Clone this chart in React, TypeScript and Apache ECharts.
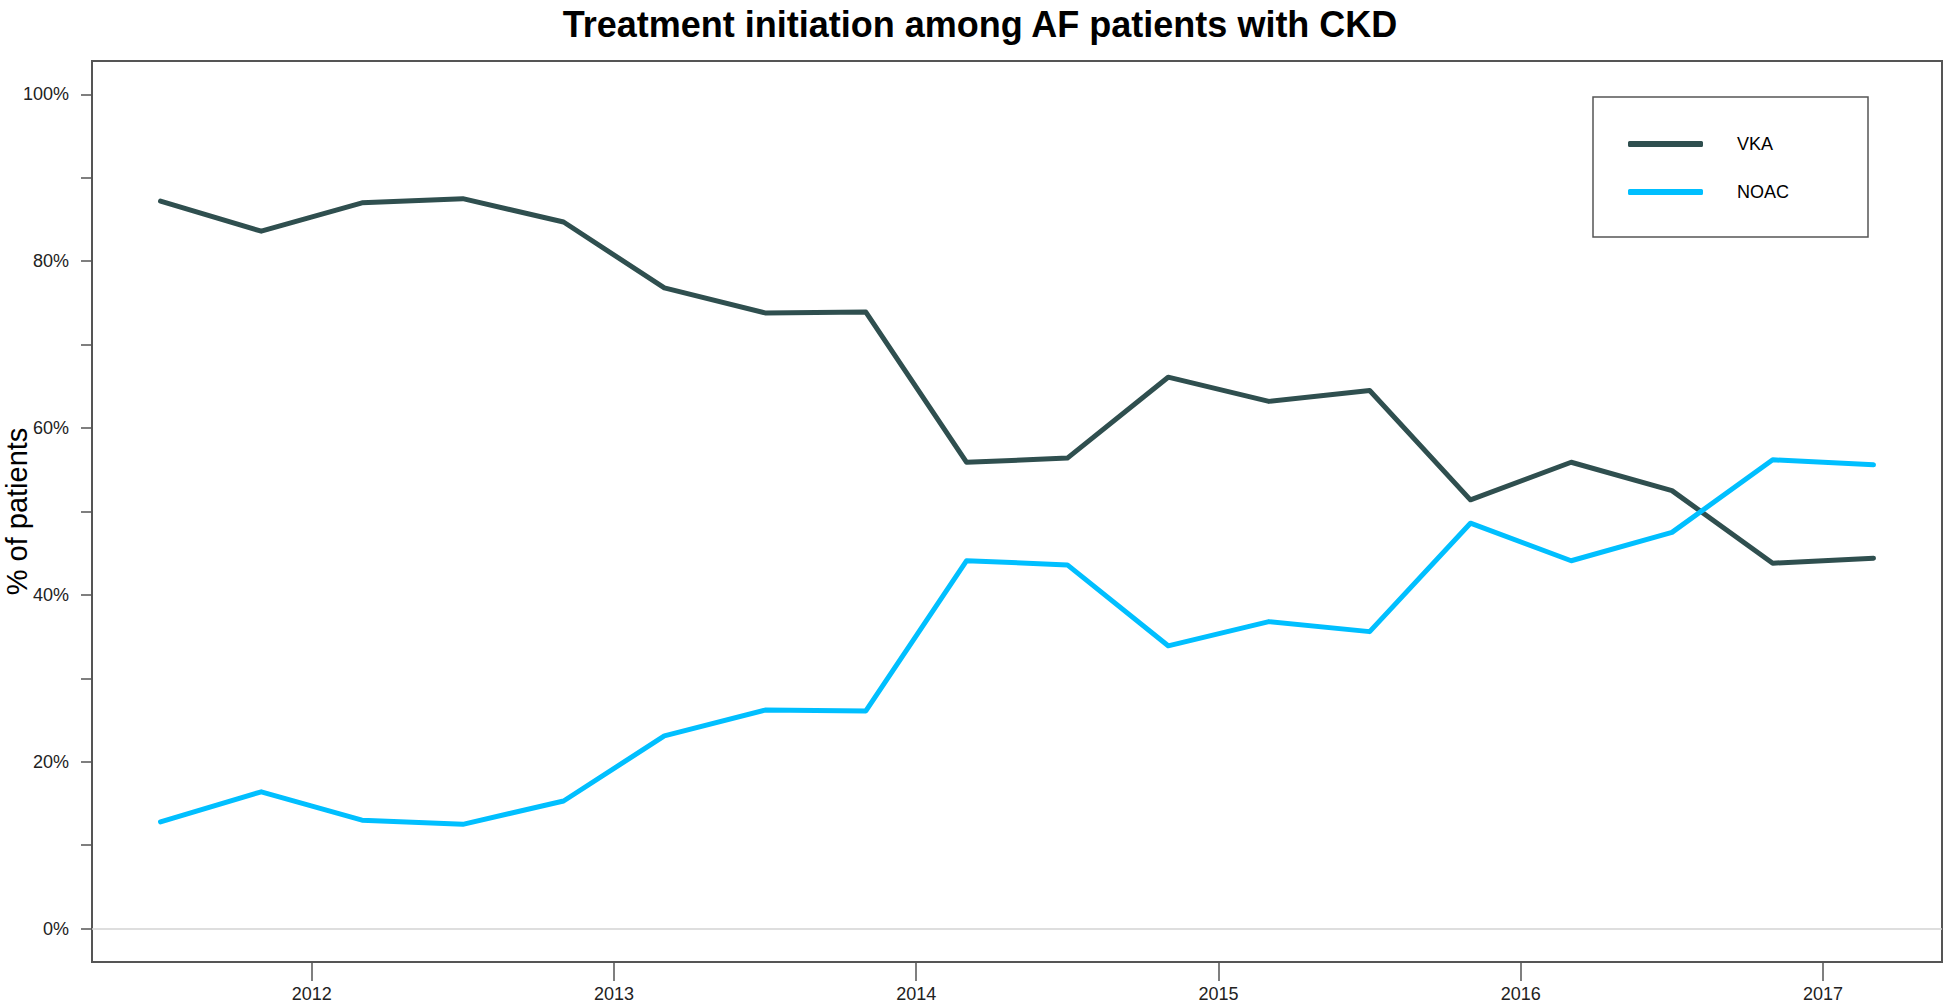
import React, { useEffect, useRef } from "react";
import * as echarts from "echarts";

const periods = [
  "2011-07", "2011-11", "2012-03", "2012-07", "2012-11", "2013-03",
  "2013-07", "2013-11", "2014-03", "2014-07", "2014-11", "2015-03",
  "2015-07", "2015-11", "2016-03", "2016-07", "2016-11", "2017-03",
];
const vka = [87.2, 83.6, 87.0, 87.5, 84.7, 76.8, 73.8, 73.9, 55.9, 56.4, 66.1, 63.2, 64.5, 51.4, 55.9, 52.5, 43.8, 44.4];
const noac = [12.8, 16.4, 13.0, 12.5, 15.3, 23.1, 26.2, 26.1, 44.1, 43.6, 33.9, 36.8, 35.6, 48.6, 44.1, 47.5, 56.2, 55.6];
const xTickYears = [2012, 2013, 2014, 2015, 2016, 2017];
const yTicks = [0, 10, 20, 30, 40, 50, 60, 70, 80, 90, 100];
const yLabels = [0, 20, 40, 60, 80, 100];
const seriesNames = ["VKA", "NOAC"];
const titleText = "Treatment initiation among AF patients with CKD";
const yAxisTitle = "% of patients";

const toYear = (p: string) => {
  const [y, m] = p.split("-").map(Number);
  return y + (m - 1) / 12;
};

const FONT = "'Liberation Sans', Arial, Helvetica, sans-serif";

export default function App() {
  const ref = useRef<HTMLDivElement>(null);
  useEffect(() => {
    if (!ref.current) return;
    const chart = echarts.init(ref.current, undefined, { renderer: "svg" });
    const xs = periods.map(toYear);
    const xMinData = Math.min(...xs);
    const xMaxData = Math.max(...xs);
    const pad = (xMaxData - xMinData) * 0.04;
    const mk = (vals: number[]) => vals.map((v, i) => [xs[i], v]);
    chart.setOption({
      animation: false,
      backgroundColor: "#ffffff",
      textStyle: { fontFamily: FONT },
      title: {
        text: titleText,
        left: 975,
        textAlign: "center",
        top: 1,
        textStyle: { fontSize: 36, fontWeight: "bold", color: "#000", fontFamily: FONT },
      },
      grid: {
        left: 92,
        right: 4,
        top: 61,
        bottom: 43,
        containLabel: false,
        outerBoundsMode: "none",
        show: true,
        borderColor: "#555",
        borderWidth: 2,
        backgroundColor: "transparent",
      },
      legend: {
        data: seriesNames,
        orient: "vertical",
        left: 1628,
        top: 134,
        itemWidth: 75,
        itemHeight: 6,
        itemGap: 28,
        icon: "roundRect",
        padding: 0,
        textStyle: { fontSize: 18, color: "#000", fontFamily: FONT, lineHeight: 20, padding: [0, 0, 0, 29] },
      },
      graphic: [
        {
          type: "rect",
          shape: { x: 1593, y: 97, width: 275, height: 140 },
          style: { fill: "none", stroke: "#555", lineWidth: 1.5 },
          silent: true,
        },
      ],
      xAxis: {
        type: "value",
        min: xMinData - pad,
        max: xMaxData + pad,
        axisLine: { show: false, onZero: false },
        splitLine: { show: false },
        axisTick: {
          show: true,
          customValues: xTickYears,
          length: 19,
          lineStyle: { color: "#555", width: 1.5 },
        },
        axisLabel: {
          customValues: xTickYears,
          margin: 23,
          fontSize: 18,
          color: "#222",
          fontFamily: FONT,
          formatter: (v: number) => String(Math.round(v)),
        },
      },
      yAxis: {
        type: "value",
        min: -4,
        max: 104,
        name: yAxisTitle,
        nameLocation: "middle",
        nameRotate: 90,
        nameGap: 61,
        nameMoveOverlap: false,
        nameTextStyle: { fontSize: 29, lineHeight: 29, color: "#000", fontFamily: FONT },
        axisLine: { show: false, onZero: false },
        splitLine: { show: false },
        axisTick: {
          show: true,
          customValues: yTicks,
          length: 11,
          lineStyle: { color: "#555", width: 1.5 },
        },
        axisLabel: {
          customValues: yLabels,
          margin: 23,
          fontSize: 18,
          color: "#222",
          fontFamily: FONT,
          formatter: (v: number) => `${Math.round(v)}%`,
        },
      },
      series: [
        {
          name: seriesNames[0],
          type: "line",
          data: mk(vka),
          symbol: "none",
          color: "#2F4F4F",
          lineStyle: { color: "#2F4F4F", width: 5, cap: "round", join: "round" },
          z: 3,
          markLine: {
            silent: true,
            symbol: "none",
            label: { show: false },
            lineStyle: { color: "#d3d3d3", width: 1.5, type: "solid" },
            data: [{ yAxis: 0 }],
            z: 1,
          },
        },
        {
          name: seriesNames[1],
          type: "line",
          data: mk(noac),
          symbol: "none",
          color: "#00BFFF",
          lineStyle: { color: "#00BFFF", width: 5, cap: "round", join: "round" },
          z: 3,
        },
      ],
    });
    return () => chart.dispose();
  }, []);
  return (
    <div
      ref={ref}
      style={{ position: "absolute", left: 0, top: 0, width: "1946px", height: "1005px" }}
    />
  );
}
